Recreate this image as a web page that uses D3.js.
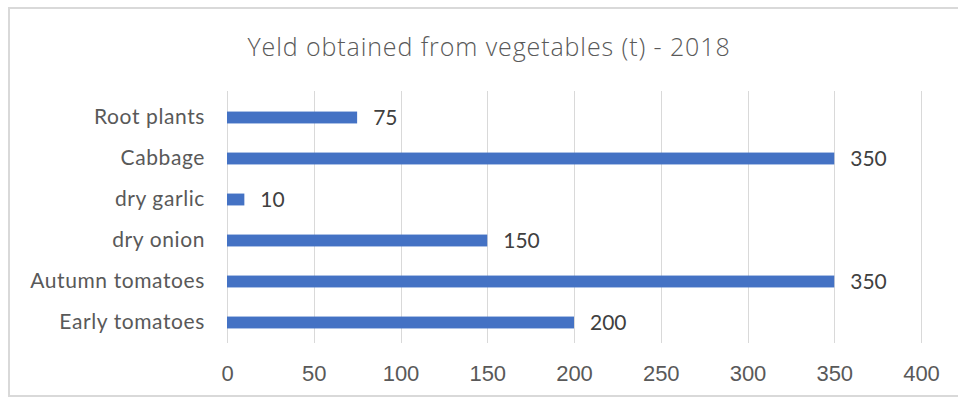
<!DOCTYPE html>
<html>
<head>
<meta charset="utf-8">
<script src="https://cdn.jsdelivr.net/npm/d3@7"></script>
<style>
  html, body { margin: 0; padding: 0; background: #fff; }
  svg { display: block; }
</style>
</head>
<body>
<svg id="chart" width="958" height="400"></svg>
<script>
// Vegetable yield, tonnes, 2018
const categories = ["Root plants", "Cabbage", "dry garlic", "dry onion", "Autumn tomatoes", "Early tomatoes"];
const values = [75, 350, 10, 150, 350, 200];
const tickValues = [0, 50, 100, 150, 200, 250, 300, 350, 400];
const title = "Yeld obtained from vegetables (t) - 2018";

const svg = d3.select("#chart");
const W = 958, H = 400;
const font = "Lato, 'Open Sans', sans-serif";

// chart area frame
svg.append("rect")
  .attr("x", 9).attr("y", 8)
  .attr("width", W + 10).attr("height", H - 12)
  .attr("fill", "#fff")
  .attr("stroke", "#d9d9d9").attr("stroke-width", 2);

const plot = { left: 227, right: 921, top: 97, bottom: 343 };

const x = d3.scaleLinear().domain([0, 400]).range([plot.left, plot.right]);
const y = d3.scaleBand().domain(categories).range([plot.top, plot.bottom]).paddingInner(0.71).paddingOuter(0.355);

// vertical gridlines
svg.append("g")
  .selectAll("line")
  .data(tickValues)
  .join("line")
  .attr("x1", d => Math.round(x(d)) + 0.5)
  .attr("x2", d => Math.round(x(d)) + 0.5)
  .attr("y1", plot.top - 6)
  .attr("y2", plot.bottom)
  .attr("stroke", "#d9d9d9")
  .attr("stroke-width", 1);

// x axis tick labels
const xAxis = d3.axisBottom(x).tickValues(tickValues).tickSize(0).tickPadding(0);
const gx = svg.append("g").attr("transform", `translate(0, 381)`).call(xAxis);
gx.select(".domain").remove();
gx.selectAll("text")
  .attr("font-family", "'Liberation Sans Narrow', 'Arial Narrow', sans-serif")
  .attr("font-size", 22)
  .attr("fill", "#595959")
  .attr("dy", 0);

// category labels
const yAxis = d3.axisLeft(y).tickSize(0).tickPadding(0);
const gy = svg.append("g").attr("transform", `translate(${plot.left - 22}, 0)`).call(yAxis);
gy.select(".domain").remove();
gy.selectAll("text")
  .attr("font-family", font)
  .attr("font-size", 21)
  .attr("letter-spacing", "0.6px")
  .attr("fill", "#595959");

// bars
svg.append("g")
  .selectAll("rect")
  .data(values)
  .join("rect")
  .attr("x", x(0))
  .attr("y", (d, i) => y(categories[i]))
  .attr("width", d => x(d) - x(0))
  .attr("height", y.bandwidth())
  .attr("fill", "#4472C4");

// value labels
svg.append("g")
  .selectAll("text")
  .data(values)
  .join("text")
  .attr("x", d => x(d) + 16)
  .attr("y", (d, i) => y(categories[i]) + y.bandwidth() / 2)
  .attr("dy", "0.36em")
  .attr("font-family", font)
  .attr("font-size", 21)
  .attr("fill", "#404040")
  .text(d => d);

// title
svg.append("text")
  .attr("x", 489)
  .attr("y", 47)
  .attr("dy", "0.36em")
  .attr("text-anchor", "middle")
  .attr("font-family", "'Open Sans', Lato, sans-serif")
  .attr("font-weight", 300)
  .attr("font-size", 25)
  .attr("letter-spacing", "0.9px")
  .attr("fill", "#595959")
  .text(title);
</script>
</body>
</html>
